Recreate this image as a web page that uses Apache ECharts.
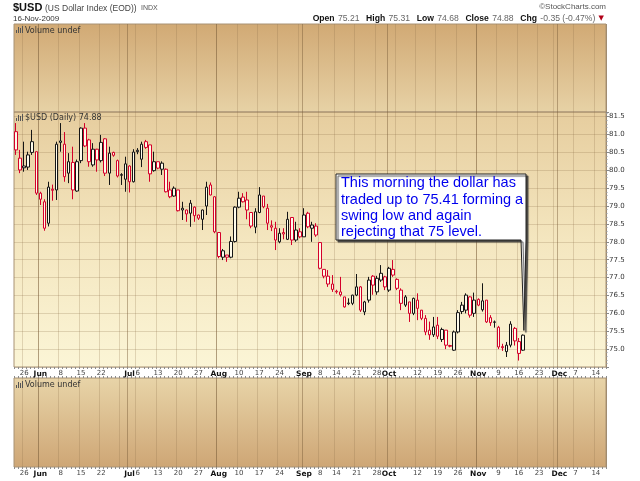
<!DOCTYPE html>
<html><head><meta charset="utf-8">
<script src="https://cdn.jsdelivr.net/npm/echarts@6/dist/echarts.min.js"></script>
<style>html,body{margin:0;padding:0;background:#fff}#c{width:640px;height:481px}</style>
</head><body><div id="c"></div>
<script>
// ---- calendar (trading days) ----
const mayDays=[21,22,26,27,28,29];
const junDays=[1,2,3,4,5,8,9,10,11,12,15,16,17,18,19,22,23,24,25,26,29,30];
const julDays=[1,2,6,7,8,9,10,13,14,15,16,17,20,21,22,23,24,27,28,29,30,31];
const augDays=[3,4,5,6,7,10,11,12,13,14,17,18,19,20,21,24,25,26,27,28,31];
const sepDays=[1,2,3,4,8,9,10,11,14,15,16,17,18,21,22,23,24,25,28,29,30];
const octDays=[1,2,5,6,7,8,9,12,13,14,15,16,19,20,21,22,23,26,27,28,29,30];
const novDays=[2,3,4,5,6,9,10,11,12,13,16,17,18,19,20,23,24,25,27,30];
const decDays=[1,2,3,4,7,8,9,10,11,14,15,16];
const categories=[].concat(
  mayDays.map(d=>'May '+d), junDays.map(d=>'Jun '+d), julDays.map(d=>'Jul '+d),
  augDays.map(d=>'Aug '+d), sepDays.map(d=>'Sep '+d), octDays.map(d=>'Oct '+d),
  novDays.map(d=>'Nov '+d), decDays.map(d=>'Dec '+d));

// ---- tick labels / grid lines ----
const tickDates=['May 26','Jun 1','Jun 8','Jun 15','Jun 22','Jul 1','Jul 6','Jul 13','Jul 20','Jul 27','Aug 3','Aug 10','Aug 17','Aug 24','Sep 1','Sep 8','Sep 14','Sep 21','Sep 28','Oct 1','Oct 12','Oct 19','Oct 26','Nov 2','Nov 9','Nov 16','Nov 23','Dec 1','Dec 7','Dec 14'];
const tickTexts=['26','Jun','8','15','22','Jul','6','13','20','27','Aug','10','17','24','Sep','8','14','21','28','Oct','12','19','26','Nov','9','16','23','Dec','7','14'];
const monthTexts=['Jun','Jul','Aug','Sep','Oct','Nov','Dec'];
const weekLines=['May 26','Jun 1','Jun 8','Jun 15','Jun 22','Jun 29','Jul 6','Jul 13','Jul 20','Jul 27','Aug 3','Aug 10','Aug 17','Aug 24','Aug 31','Sep 8','Sep 14','Sep 21','Sep 28','Oct 5','Oct 12','Oct 19','Oct 26','Nov 2','Nov 9','Nov 16','Nov 23','Nov 30','Dec 7','Dec 14'];
const monthLines=['Jun 1','Jul 1','Aug 3','Sep 1','Oct 1','Nov 2','Dec 1'];

// ---- OHLC ----
const open=[81.08,80.34,80.07,80.09,80.80,80.52,79.36,79.12,78.52,79.47,
79.45,80.82,80.73,79.92,80.22,79.42,80.27,81.18,80.85,80.15,
80.59,80.27,80.88,79.92,80.50,80.27,79.86,79.75,80.12,79.68,
80.56,80.31,80.80,80.71,79.99,80.24,80.03,80.03,79.45,79.28,
79.45,78.89,78.89,78.80,78.97,78.75,78.63,79.00,79.59,79.26,
78.26,77.57,77.63,77.57,78.01,78.97,79.25,79.17,78.82,78.41,
78.82,79.28,78.94,78.45,78.38,78.00,78.26,78.07,78.68,78.05,
78.28,78.14,78.80,78.38,78.44,77.98,77.23,77.04,76.82,76.62,
76.60,76.46,76.29,76.28,76.51,76.74,76.04,76.37,77.04,76.60,
76.93,77.02,76.65,77.23,76.95,76.65,76.23,76.32,76.00,76.37,
76.09,75.86,75.53,75.40,75.67,75.27,75.53,75.10,74.97,75.48,
76.05,76.09,76.46,76.00,76.39,76.10,76.37,75.88,75.75,75.61,
75.07,74.93,75.11,75.58,75.21,74.97];
const high=[81.32,80.57,80.80,80.52,81.13,80.52,79.40,79.19,79.68,79.60,
80.80,81.32,81.07,80.48,80.66,80.30,81.20,81.32,80.88,80.76,
80.60,80.99,80.90,80.66,80.52,80.30,79.92,80.38,80.14,80.59,
80.62,80.80,80.85,80.71,80.52,80.24,80.25,80.05,79.68,79.55,
79.45,79.12,78.90,79.17,78.99,78.76,78.90,79.68,79.66,79.28,
78.26,77.80,77.63,78.15,78.99,79.40,79.36,79.40,78.82,78.94,
79.53,79.28,79.06,78.60,78.56,78.38,78.38,78.84,78.68,78.56,
78.38,78.94,78.84,78.56,78.52,77.98,77.23,77.21,77.07,76.66,
77.02,76.46,76.42,76.52,77.10,76.76,76.35,77.02,77.07,77.05,
77.35,77.05,77.30,77.49,76.98,76.70,76.51,76.32,76.44,76.56,
76.09,75.95,75.77,75.90,75.90,75.60,75.53,75.12,75.52,76.09,
76.32,76.56,76.48,76.58,76.42,76.84,76.37,75.95,75.80,75.65,
75.15,75.20,75.78,75.62,75.31,75.41];
const low=[80.43,79.92,79.96,80.01,80.43,79.31,79.03,78.31,78.43,79.15,
79.17,80.52,79.68,79.64,79.19,79.40,80.20,80.65,80.10,80.10,
79.96,80.22,79.84,79.59,80.38,79.80,79.59,79.40,79.38,79.66,
80.45,80.09,80.60,79.68,79.96,80.03,79.87,79.38,79.22,79.26,
78.85,78.61,78.56,78.42,78.56,78.61,78.33,78.75,79.30,78.24,
77.54,77.49,77.44,77.54,77.98,78.94,79.10,78.63,78.38,78.24,
78.80,78.94,78.33,78.30,77.77,77.96,78.07,78.05,77.91,78.00,
78.10,78.14,78.38,78.00,78.14,77.23,76.98,76.74,76.60,76.55,
76.47,76.16,76.23,76.23,76.48,76.04,75.95,76.30,76.52,76.52,
76.88,76.65,76.60,77.02,76.65,76.09,76.18,75.76,75.95,75.81,
75.81,75.39,75.26,75.34,75.28,75.20,75.00,75.05,74.95,75.44,
75.98,76.00,75.88,75.90,76.20,76.05,75.73,75.65,75.60,75.00,
74.95,74.78,75.05,75.10,74.68,74.95];
const close=[80.57,80.01,80.12,80.43,80.50,79.36,79.19,78.38,79.53,79.44,
80.73,80.78,79.82,80.24,79.45,80.24,81.18,80.68,80.24,80.59,
80.29,80.78,79.92,80.48,80.42,79.84,79.88,80.18,79.68,80.51,
80.52,80.73,80.64,79.90,80.24,80.06,80.20,79.40,79.26,79.50,
78.87,78.94,78.78,79.08,78.73,78.66,78.89,79.53,79.31,78.28,
77.59,77.75,77.57,78.01,78.97,79.22,79.12,78.89,78.44,78.84,
79.31,78.98,78.52,78.41,78.05,78.24,78.22,78.63,78.05,78.33,
78.14,78.75,78.42,78.47,78.19,77.26,77.04,76.82,76.67,76.60,
76.52,76.18,76.27,76.51,76.74,76.09,76.32,76.93,76.79,76.98,
77.12,76.74,77.26,77.07,76.70,76.28,76.46,76.00,76.42,76.14,
75.86,75.48,75.40,75.62,75.36,75.55,75.11,75.08,75.48,76.02,
76.23,76.51,75.95,76.37,76.23,76.35,75.76,75.74,75.76,75.06,
75.04,75.11,75.70,75.23,74.88,75.39];

const RED='#d4002a', BLACK='#151515', HOLLOW='#fffbea';
const items=open.map((o,i)=>{
  const c=close[i], prev=i>0?close[i-1]:Infinity;
  const col=c<prev?RED:BLACK;
  return {value:[o,c,low[i],high[i]],itemStyle:{color:HOLLOW,borderColor:col,color0:col,borderColor0:col,borderColorDoji:col}};
});

const chart=echarts.init(document.getElementById('c'),null,{renderer:'canvas'});
const L=14,W=592;
const FONT='"DejaVu Sans", Verdana, sans-serif';
const ARIAL='"Liberation Sans", Arial, sans-serif';
function grad(stops){return {type:'linear',x:0,y:0,x2:0,y2:1,colorStops:stops.map((c,i)=>({offset:i/(stops.length-1),color:c}))};}
const wkSet=new Set(weekLines), moSet=new Set(monthLines), tkMap=new Map(tickDates.map((d,i)=>[d,tickTexts[i]]));
const WEEKC='rgba(140,110,70,0.24)', MONTHC='rgba(120,90,55,0.45)';
function weekAxis(g,labels){
  return {type:'category',gridIndex:g,data:categories,position:'bottom',boundaryGap:true,
    axisLine:{show:false},
    axisTick:{show:labels,interval:0,length:2,lineStyle:{color:'#8a8a8a'}},
    axisLabel:{show:labels,interval:(i,v)=>tkMap.has(v),margin:3,
      formatter:(v)=>{const t=tkMap.get(v)||'';return monthTexts.includes(t)?'{m|'+t+'}':'{d|'+t+'}';},
      rich:{m:{fontFamily:FONT,fontSize:7.5,fontWeight:'bold',color:'#111'},d:{fontFamily:FONT,fontSize:7,color:'#444'}}},
    splitLine:{show:true,interval:(i,v)=>wkSet.has(v),lineStyle:{color:WEEKC,width:1}}};
}
function monthAxis(g,ticks){
  return {type:'category',gridIndex:g,data:categories,position:'top',boundaryGap:true,
    axisLine:{show:false},
    axisTick:{show:ticks,interval:0,length:2,lineStyle:{color:'#8a8a8a'}},
    axisLabel:{show:false},
    splitLine:{show:true,interval:(i,v)=>moSet.has(v),lineStyle:{color:MONTHC,width:1}}};
}
const BORDER='#a89274';
const option={
  animation:false,
  backgroundColor:'#fff',
  grid:[
    {left:L,width:W,top:24,height:88,show:true,borderColor:BORDER,borderWidth:1,backgroundColor:grad(['#d1a974','#e7d2a6'])},
    {left:L,width:W,top:112,height:255,show:true,borderColor:BORDER,borderWidth:1,backgroundColor:grad(['#e6cd9e','#f4e6bf','#fbf5d6'])},
    {left:L,width:W,top:378,height:89,show:true,borderColor:BORDER,borderWidth:1,backgroundColor:grad(['#e8d4a8','#cea675'])}
  ],
  xAxis:[weekAxis(0,false),monthAxis(0,false),weekAxis(1,true),monthAxis(1,false),weekAxis(2,true),monthAxis(2,true)],
  yAxis:[
    {type:'value',gridIndex:0,min:0,max:1,show:false},
    {type:'value',gridIndex:1,position:'right',min:74.5,max:81.63,interval:0.5,scale:true,
      axisLine:{show:false},
      axisTick:{show:true,length:3,lineStyle:{color:'#888'}},
      minorTick:{show:true,splitNumber:5,length:1.5,lineStyle:{color:'#999'}},
      axisLabel:{margin:3,fontFamily:FONT,fontSize:7,color:'#333',
        formatter:(v)=>(v<74.9||v>81.55)?'':v.toFixed(1)},
      splitLine:{show:true,lineStyle:{color:'rgba(140,110,70,0.24)',width:1}}},
    {type:'value',gridIndex:2,min:0,max:1,show:false}
  ],
  series:[{type:'candlestick',xAxisIndex:2,yAxisIndex:1,data:items,barWidth:3,
    itemStyle:{borderWidth:1}}]
};
chart.setOption(option);

// ---- texts / annotation ----
function icon(x,y){
  return [[0,4],[2,1],[4,2],[6,0]].map(([dx,h])=>({type:'rect',shape:{x:x+dx,y:y+h,width:1,height:7-h},style:{fill:'#555'},z:100}));
}
const last=open.length-1;
const p=chart.convertToPixel({seriesIndex:0},[categories[last],high[last]]);
const tip=[p[0]+1,p[1]-4];
const BL=336,BT=174,BR=526,BB=240;
const graphics=[
  {type:'text',z:100,style:{x:13,y:8,text:'$USD',font:'bold 11px '+ARIAL,fill:'#111',verticalAlign:'middle'}},
  {type:'text',z:100,style:{x:45,y:8.5,text:'(US Dollar Index (EOD))',font:'8.5px '+ARIAL,fill:'#444',verticalAlign:'middle'}},
  {type:'text',z:100,style:{x:141,y:8.5,text:'INDX',font:'7px '+ARIAL,fill:'#555',verticalAlign:'middle'}},
  {type:'text',z:100,style:{x:13,y:19,text:'16-Nov-2009',font:'8px '+ARIAL,fill:'#333',verticalAlign:'middle'}},
  {type:'text',z:100,style:{x:606,y:7,text:'©StockCharts.com',font:'8px '+ARIAL,fill:'#555',align:'right',verticalAlign:'middle'}},
  {type:'text',z:100,style:{x:604,y:18.5,align:'right',verticalAlign:'middle',
    text:'{b|Open} {v|75.21}  {b|High} {v|75.31}  {b|Low} {v|74.68}  {b|Close} {v|74.88}  {b|Chg} {v|-0.35 (-0.47%)} {r|▼}',
    rich:{b:{fontFamily:ARIAL,fontSize:8.6,fontWeight:'bold',fill:'#111'},v:{fontFamily:ARIAL,fontSize:8.6,fill:'#666'},r:{fontFamily:FONT,fontSize:7,fill:'#b00018'}}}},
  {type:'text',z:100,style:{x:25,y:30.5,text:'Volume undef',font:'8px '+FONT,fill:'#333',verticalAlign:'middle'}},
  {type:'text',z:100,style:{x:25,y:118,text:'$USD (Daily) 74.88',font:'8px '+FONT,fill:'#333',verticalAlign:'middle'}},
  {type:'text',z:100,style:{x:25,y:385,text:'Volume undef',font:'8px '+FONT,fill:'#333',verticalAlign:'middle'}},
  {type:'polygon',z:110,shape:{points:[[BL,BT],[BR,BT],[BR,BB],tip,[BR-5,BB],[BL,BB]]},
    style:{fill:'#fff',stroke:'#222',lineWidth:1,shadowColor:'rgba(50,50,50,0.85)',shadowOffsetX:2,shadowOffsetY:2,shadowBlur:1}},
  {type:'text',z:120,style:{x:341,y:175,text:'This morning the dollar has\ntraded up to 75.41 forming a\nswing low and again\nrejecting that 75 level.',
    font:'14.5px '+ARIAL,fill:'#0000ee',lineHeight:16.4,verticalAlign:'top'}}
].concat(icon(16,26),icon(16,114),icon(16,381));
chart.setOption({graphic:graphics});
</script></body></html>
